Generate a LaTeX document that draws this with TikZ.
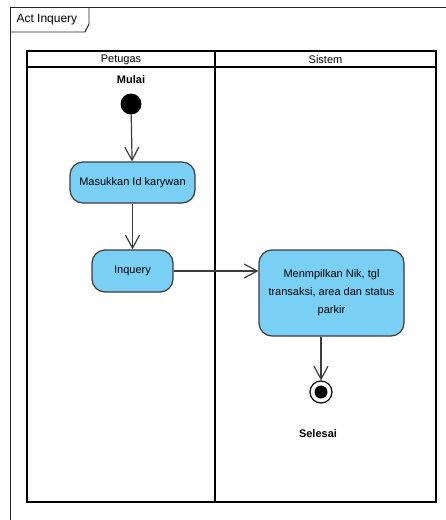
\documentclass[tikz,border=0pt]{standalone}
\usepackage{fontspec}
\setmainfont{Liberation Sans}
\usetikzlibrary{arrows.meta}
\definecolor{actfill}{HTML}{7ACFF5}
\definecolor{actline}{HTML}{3C3C3C}
\begin{document}
\begin{tikzpicture}[x=1pt,y=-1pt,
  lane/.style={line width=2.4pt,draw=black},
  action/.style={draw=actline,line width=1.2pt,fill=actfill,rounded corners=13pt,
    align=center,font=\fontsize{11}{18}\selectfont,inner sep=0pt},
  flow/.style={draw=actline,line width=1.2pt,-{Straight Barb[length=13pt,width=14pt,line width=1.2pt]}},
  lbl/.style={font=\fontsize{11}{13}\selectfont\bfseries},
  lanehead/.style={font=\fontsize{11}{13}\selectfont}]
\useasboundingbox (0,0) rectangle (446,520);
\clip (0,0) rectangle (446,520);
\fill[white] (0,0) rectangle (446,520);

% outer activity frame with its name tab
\draw[line width=0.9pt,draw=black!85] (10,530) -- (10,7) -- (460,7);
\draw[line width=0.9pt,draw=black!85] (10,32) -- (85,32) -- (89,24) -- (89,7);
\node[font=\fontsize{12}{14}\selectfont,anchor=west] (title) at (13,20) {Act Inquery};

% swimlanes
\draw[lane] (27,51) rectangle (436,502);
\draw[lane] (27,67) -- (436,67);
\draw[lane] (215,51) -- (215,502);
\node[lanehead] (petugas) at (121,59.5) {Petugas};
\node[lanehead] (sistem) at (325.5,59.5) {Sistem};

% initial node
\node[lbl] (mulai) at (131,80) {Mulai};
\node[circle,fill=black,minimum size=21pt,inner sep=0pt] (start) at (131,104) {};

% actions
\node[action,minimum width=125pt,minimum height=41pt] (masuk) at (132.5,182.5) {Masukkan Id karywan};
\node[action,minimum width=81pt,minimum height=42pt] (inq) at (132.5,271) {Inquery};
\node[action,minimum width=145pt,minimum height=86pt] (tampil) at (331.5,293)
  {Menmpilkan Nik, tgl\\transaksi, area dan status\\parkir};

% final node
\node[circle,draw=black,line width=1.2pt,fill=white,minimum size=22pt,inner sep=0pt] (end) at (321,392) {};
\fill[black] (end.center) circle (6.5pt);
\node[lbl] (selesai) at (318,434) {Selesai};

% control flows
\draw[flow] (start) -- (masuk);
\draw[flow] (masuk) -- (inq);
\draw[flow] (inq.east) -- (inq.east -| tampil.west);
\draw[flow] (tampil.south -| end) -- (end.north);
\end{tikzpicture}
\end{document}
